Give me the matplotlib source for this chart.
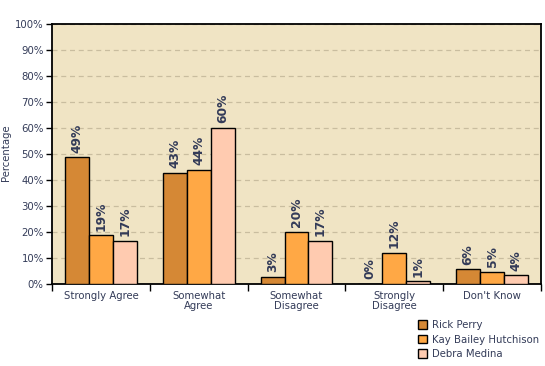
import matplotlib
matplotlib.use("Agg")
import matplotlib.pyplot as plt
import numpy as np

# Survey responses (percent)
categories = ["Strongly Agree", "Somewhat\nAgree", "Somewhat\nDisagree", "Strongly\nDisagree", "Don't Know"]
series_names = ["Rick Perry", "Kay Bailey Hutchison", "Debra Medina"]
perry = [48.7, 42.6, 2.6, 0.0, 5.6]
hutchison = [18.7, 43.8, 19.9, 11.8, 4.5]
medina = [16.4, 59.9, 16.4, 1.0, 3.3]
perry_labels = ["49%", "43%", "3%", "0%", "6%"]
hutchison_labels = ["19%", "44%", "20%", "12%", "5%"]
medina_labels = ["17%", "60%", "17%", "1%", "4%"]
y_ticks = [0, 10, 20, 30, 40, 50, 60, 70, 80, 90, 100]

colors = ["#D58835", "#FFA845", "#FFCBB0"]
text_color = "#333B58"

plt.rcParams["font.family"] = "DejaVu Sans"

fig = plt.figure(figsize=(5.45, 3.66), dpi=100)
ax = fig.add_axes([52 / 545, 1 - 284 / 366, 489 / 545, 260 / 366])
ax.set_facecolor("#F0E4C4")

x = np.arange(len(categories))
w = 0.245
all_vals = [perry, hutchison, medina]
all_labels = [perry_labels, hutchison_labels, medina_labels]
for i, (vals, labs) in enumerate(zip(all_vals, all_labels)):
    xs = x + (i - 1) * w
    ax.bar(xs, vals, width=w, color=colors[i], edgecolor="black", linewidth=1.0,
           label=series_names[i], zorder=3)
    for xi, v, lab in zip(xs, vals, labs):
        ax.annotate(lab, (xi, v), xytext=(0, 3.5), textcoords="offset points",
                    rotation=90, ha="center", va="bottom", fontsize=8.8,
                    fontweight="bold", color=text_color, zorder=4)

ax.set_xlim(-0.5, len(categories) - 0.5)
ax.set_ylim(0, 100)
ax.set_yticks(y_ticks)
ax.set_yticklabels([f"{t}%" for t in y_ticks])
ax.yaxis.grid(True, linestyle=(0, (4, 3)), color="#C9BD9F", linewidth=0.9, zorder=0)
ax.set_axisbelow(True)

# boundaries get the tick marks, category names sit between them
ax.set_xticks(np.arange(-0.5, len(categories), 1.0))
ax.set_xticklabels([])
ax.set_xticks(x, minor=True)
ax.set_xticklabels(categories, minor=True, fontsize=7.3, color=text_color,
                   linespacing=1.0)
ax.tick_params(axis="x", which="minor", length=0, pad=5)
ax.tick_params(axis="x", which="major", length=5, width=1, direction="out")
ax.tick_params(axis="y", length=4, width=1, labelsize=7.3, labelcolor=text_color, pad=2)

for s in ax.spines.values():
    s.set_linewidth(1.3)
    s.set_color("black")

fig.text(6 / 545, 1 - 153 / 366, "Percentage", rotation=90, ha="center", va="center",
         fontsize=7.3, color=text_color)

leg = fig.legend(loc="upper left", bbox_to_anchor=(418 / 545, 1 - 320 / 366),
                 frameon=False, fontsize=7.3, handlelength=0.9, handleheight=0.9,
                 handletextpad=0.5, labelspacing=0.45, borderaxespad=0, borderpad=0)
for t in leg.get_texts():
    t.set_color(text_color)

fig.savefig("out.png", dpi=100)
